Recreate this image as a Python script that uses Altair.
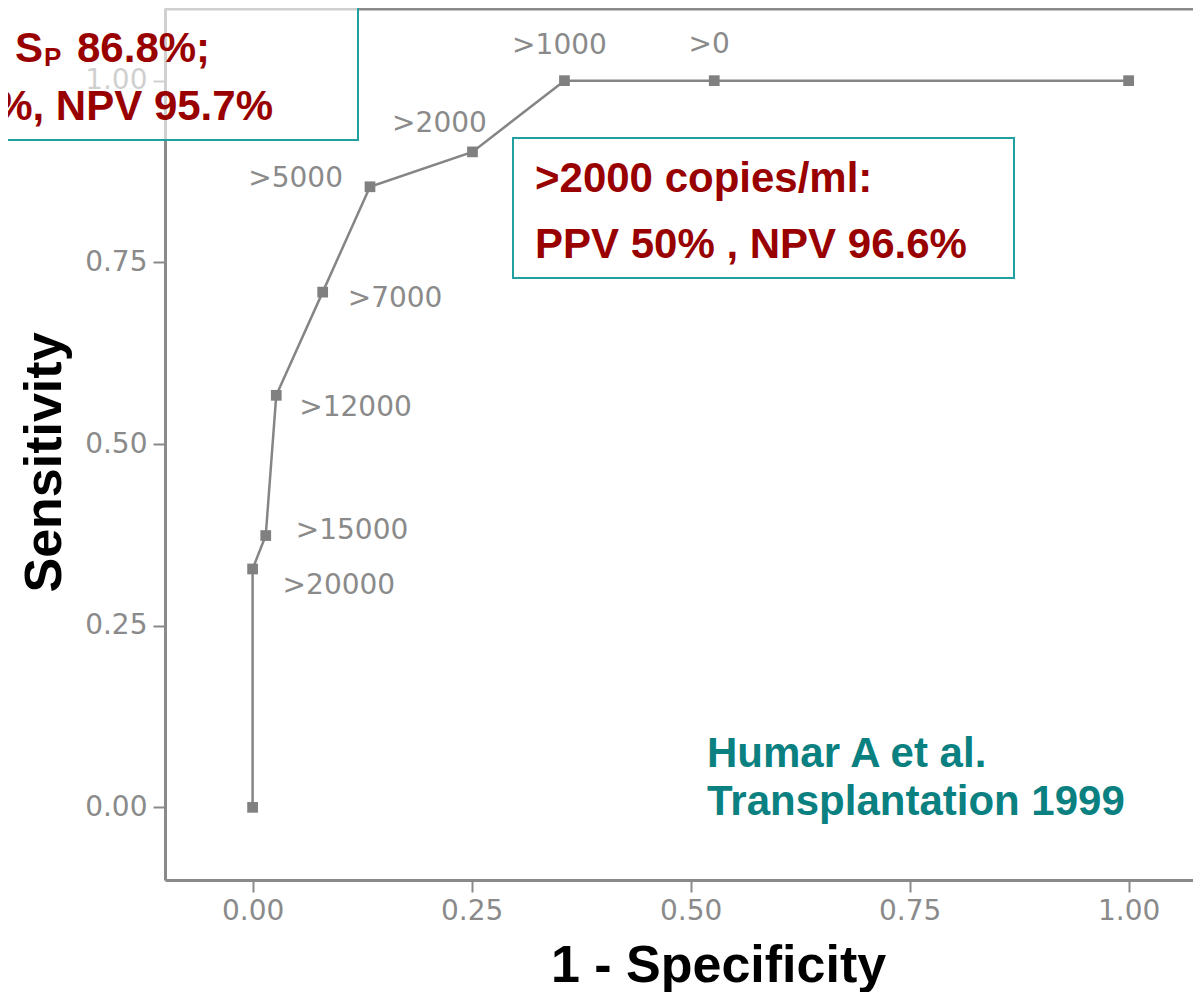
import altair as alt
import pandas as pd

# ROC curve (Humar A et al., Transplantation 1999) - CMV viral load cut-offs
fpr = [0.0, 0.0, 0.015, 0.027, 0.080, 0.134, 0.251, 0.356, 0.527, 1.0]
sens = [0.0, 0.328, 0.374, 0.567, 0.709, 0.854, 0.902, 1.0, 1.0, 1.0]
cutoff = ["", ">20000", ">15000", ">12000", ">7000", ">5000", ">2000", ">1000", ">0", ""]
order = list(range(len(fpr)))

x_ticks = [0.0, 0.25, 0.5, 0.75, 1.0]
y_ticks = [0.0, 0.25, 0.5, 0.75, 1.0]

df = pd.DataFrame({"fpr": fpr, "sens": sens, "cutoff": cutoff, "order": order})

W, H = 1028, 872
GRAY = "#8a8a8a"
RED = "#990000"
TEAL_BOX = "#22a0a0"
TEAL_TXT = "#0a8080"
BOLD = "Liberation Sans"

xs = alt.Scale(domain=[-0.1, 1.0735], nice=False, zero=False)
ys = alt.Scale(domain=[-0.1, 1.1], nice=False, zero=False)

X = alt.X(
    "fpr:Q", scale=xs,
    axis=alt.Axis(
        values=x_ticks, format=".2f", title="1 - Specificity", grid=False,
        domainColor="#8a8a8a", domainWidth=3, tickColor="#8a8a8a", tickWidth=2,
        tickSize=12, labelFont="DejaVu Sans", labelFontSize=28, labelColor=GRAY,
        labelPadding=5, labelFlush=False, labelOverlap=False,
        titleFont=BOLD, titleFontWeight="bold", titleFontSize=52, titleColor="black",
        titleX=553, titleY=101, titleAlign="center", titleBaseline="alphabetic",
    ),
)
Y = alt.Y(
    "sens:Q", scale=ys,
    axis=alt.Axis(
        values=y_ticks, format=".2f", title="Sensitivity", grid=False,
        domainColor="#8a8a8a", domainWidth=3, tickColor="#8a8a8a", tickWidth=2,
        tickSize=12, labelFont="DejaVu Sans", labelFontSize=28, labelColor=GRAY,
        labelPadding=6, labelFlush=False, labelOverlap=False,
        titleFont=BOLD, titleFontWeight="bold", titleFontSize=52, titleColor="black",
        titleX=-105, titleY=454, titleAngle=270, titleAlign="center",
        titleBaseline="alphabetic",
    ),
)

base = alt.Chart(df)

line = base.mark_line(color="#858585", strokeWidth=2.5).encode(
    x=X, y=Y, order=alt.Order("order:Q")
)
points = base.mark_point(shape="square", filled=True, size=115, color="#808080", opacity=1).encode(
    x=X, y=Y
)

# label placement relative to each marker (pixels)
label_style = {
    ">20000": ("left", 30, 17),
    ">15000": ("left", 30, -5),
    ">12000": ("left", 23, 13),
    ">7000": ("left", 25, 7),
    ">5000": ("right", -27, -8),
    ">2000": ("center", -33, -28),
    ">1000": ("center", -5, -35),
    ">0": ("center", -5, -36),
}
label_layers = []
for lab, (al, dx, dy) in label_style.items():
    label_layers.append(
        base.transform_filter(alt.datum.cutoff == lab)
        .mark_text(align=al, baseline="middle", dx=dx, dy=dy, font="DejaVu Sans",
                   fontSize=28, color=GRAY)
        .encode(x=X, y=Y, text="cutoff:N")
    )

one = alt.Chart(pd.DataFrame({"k": [0]}))

frame_top = one.mark_rule(color="#8a8a8a", strokeWidth=3).encode(
    x=alt.value(0), x2=alt.value(W), y=alt.value(1)
)

box1 = one.mark_rect(fill="white", fillOpacity=0.6, stroke=TEAL_BOX, strokeWidth=2).encode(
    x=alt.value(-185), x2=alt.value(193), y=alt.value(-30), y2=alt.value(132)
)
box2 = one.mark_rect(fill="white", fillOpacity=0.6, stroke=TEAL_BOX, strokeWidth=2).encode(
    x=alt.value(348), x2=alt.value(849), y=alt.value(130), y2=alt.value(270)
)


def txt(s, x, y, size=42, color=RED, align="left"):
    return one.mark_text(text=s, font=BOLD, fontWeight="bold", fontSize=size, color=color,
                         align=align, baseline="alphabetic").encode(
        x=alt.value(x), y=alt.value(y))


texts = [
    txt(", S", -122, 54, align="right"),
    txt("P", -121, 58, size=26),
    txt("86.8%;", -88, 54),
    txt("%, NPV 95.7%", 108, 112, align="right"),
    txt(">2000 copies/ml:", 370, 184),
    txt("PPV 50% , NPV 96.6%", 370, 250),
    txt("Humar A et al.", 542, 759, color=TEAL_TXT),
    txt("Transplantation 1999", 542, 807, color=TEAL_TXT),
]

chart = alt.layer(line, points, *label_layers, frame_top, box1, box2, *texts).properties(
    width=W, height=H,
    autosize=alt.AutoSizeParams(type="none"),
    padding={"left": 157, "top": 0, "right": 0, "bottom": 112},
    background="white",
).configure_view(strokeWidth=0)

chart.save("out.html", embed_options={"renderer": "svg", "actions": False})
